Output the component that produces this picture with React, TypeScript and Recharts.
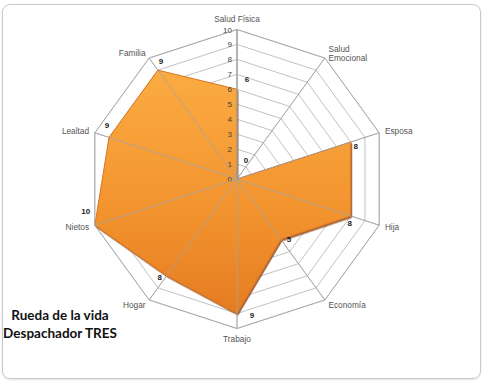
import { LabelList, PolarAngleAxis, PolarGrid, PolarRadiusAxis, Radar, RadarChart } from 'recharts';

const categories = [
  'Salud Física',
  'Salud Emocional',
  'Esposa',
  'Hija',
  'Economía',
  'Trabajo',
  'Hogar',
  'Nietos',
  'Lealtad',
  'Familia',
];
const scores = [6, 0, 8, 8, 5, 9, 8, 10, 9, 9];
const radiusTicks = [0, 1, 2, 3, 4, 5, 6, 7, 8, 9, 10];
const titleLines = ['Rueda de la vida', 'Despachador TRES'];

// chart geometry
const W = 482;
const H = 384;
const CX = 237;
const CY = 179;
const R = 149.5;

// where each value label sits relative to its point (px)
const labelNudge = [
  [10, -10],
  [9, -19],
  [5, 4],
  [-1, 7],
  [8, 0],
  [15, 1],
  [-7, 1],
  [-9, -14],
  [-2, -12],
  [3, -9],
];

const data = categories.map((name, i) => ({ name, score: scores[i] }));

function AngleTick(props: any) {
  const angle = props.payload.coordinate;
  const rad = (-angle * Math.PI) / 180;
  const cos = Math.cos(rad);
  const sin = Math.sin(rad);
  const r = R + 6;
  const x = CX + r * cos;
  let y = CY + r * sin;
  const vertical = Math.abs(cos) < 0.1;
  if (vertical) y += sin > 0 ? 4 : -5;
  const anchor = vertical ? 'middle' : cos > 0 ? 'start' : 'end';
  const label: string = props.payload.value;
  const lines = label.length > 12 ? label.split(' ') : [label];
  return (
    <text
      x={x}
      y={y}
      textAnchor={anchor}
      fontSize={8.3}
      fill="#555"
      fontFamily="'Liberation Sans', Arial, sans-serif"
    >
      {lines.map((ln, i) => (
        <tspan key={i} x={x} dy={i === 0 ? (-(lines.length - 1) * 9) / 2 + 3 : 9}>
          {ln}
        </tspan>
      ))}
    </text>
  );
}

function RadiusTick(props: any) {
  return (
    <text
      x={props.x - 5}
      y={props.y + 3}
      textAnchor="end"
      fontSize={8}
      fill="#404040"
      fontFamily="'Liberation Sans', Arial, sans-serif"
    >
      {props.payload.value}
    </text>
  );
}

function ValueLabel(props: any) {
  const { x, y, value, index } = props;
  const [dx, dy] = labelNudge[index] || [0, 0];
  return (
    <text
      x={x + dx}
      y={y + dy + 3}
      textAnchor="middle"
      fontSize={8}
      fontWeight="bold"
      fill="#222"
      fontFamily="'Liberation Sans', Arial, sans-serif"
    >
      {value}
    </text>
  );
}

export default function App() {
  return (
    <div style={{ position: 'absolute', left: 0, top: 0, width: W, height: H, background: '#fff' }}>
      <div
        style={{
          position: 'absolute',
          left: 2,
          top: 4,
          width: 477,
          height: 373,
          border: '1px solid #c9c9c9',
          borderRadius: 8,
          boxShadow: '0 1px 2px rgba(0,0,0,0.12)',
        }}
      />
      <div style={{ position: 'absolute', left: 0, top: 0 }}>
        <RadarChart
          width={W}
          height={H}
          data={data}
          cx={CX}
          cy={CY}
          outerRadius={R}
          startAngle={90}
          endAngle={-270}
          margin={{ top: 0, right: 0, bottom: 0, left: 0 }}
        >
          <defs>
            <linearGradient id="orangeFill" x1="0" y1="0" x2="0" y2="1">
              <stop offset="0%" stopColor="#fbab42" />
              <stop offset="55%" stopColor="#f3952f" />
              <stop offset="100%" stopColor="#e57c22" />
            </linearGradient>
            <filter id="bevel" x="-10%" y="-10%" width="120%" height="120%">
              <feDropShadow dx="1" dy="1.5" stdDeviation="0.6" floodColor="#8a3f08" floodOpacity="0.8" />
            </filter>
          </defs>
          <PolarGrid gridType="polygon" stroke="#b3b3b3" strokeWidth={0.8} />
          <PolarRadiusAxis
            angle={90}
            domain={[0, 10]}
            ticks={radiusTicks as any}
            tickCount={11}
            axisLine={{ stroke: '#9a9a9a' }}
            tickLine={false}
            tick={<RadiusTick />}
          />
          <PolarAngleAxis dataKey="name" tick={<AngleTick />} tickLine={false} axisLine={false} />
          <Radar
            dataKey="score"
            fill="url(#orangeFill)"
            fillOpacity={1}
            stroke="#d87420"
            strokeWidth={1}
            filter="url(#bevel)"
            isAnimationActive={false}
          >
            <LabelList dataKey="score" content={<ValueLabel />} />
          </Radar>
          {/* radial spokes drawn again on top of the fill */}
          <PolarGrid
            gridType="polygon"
            stroke="#a3a3a3"
            strokeWidth={0.8}
            polarRadius={[R]}
            {...({ zIndex: 700 } as any)}
          />
        </RadarChart>
      </div>
      {titleLines.map((t, i) => (
        <div
          key={t}
          style={{
            position: 'absolute',
            left: 0,
            width: 120,
            top: 306 + i * 18,
            textAlign: 'center',
            whiteSpace: 'nowrap',
            fontFamily: 'Lato, sans-serif',
            fontWeight: 700,
            fontSize: 13.5,
            color: '#111',
            lineHeight: '18px',
          }}
        >
          {t}
        </div>
      ))}
    </div>
  );
}
